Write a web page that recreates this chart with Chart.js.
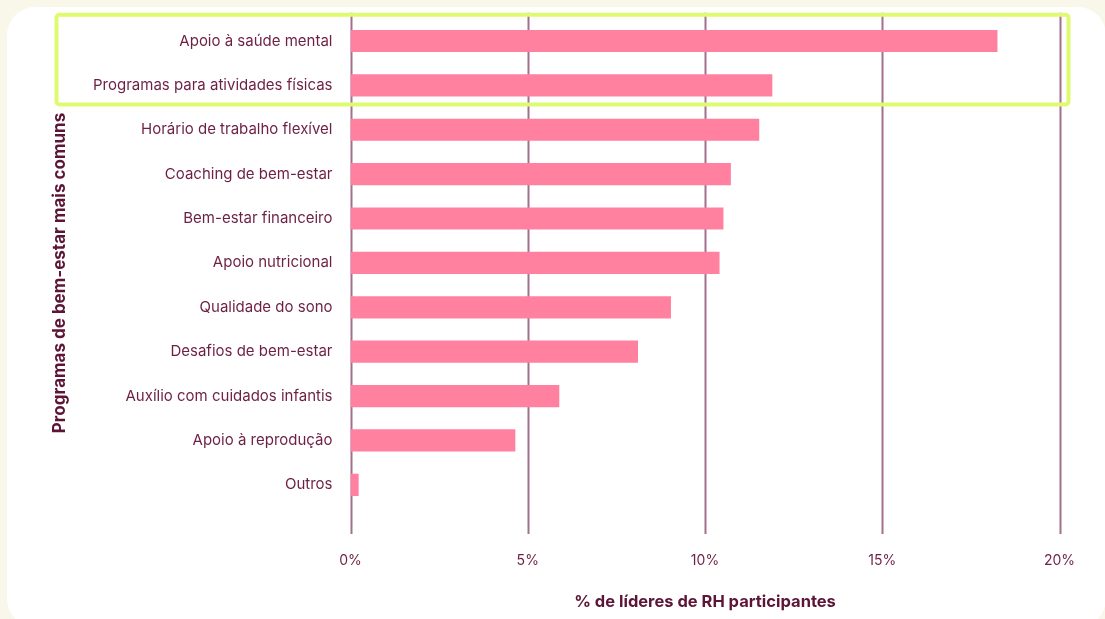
<!DOCTYPE html>
<html>
<head>
<meta charset="utf-8">
<script src="https://cdn.jsdelivr.net/npm/chart.js@4"></script>
<style>
  html, body { margin: 0; padding: 0; width: 1105px; height: 619px; overflow: hidden; background: #f9f7ea; }
  .card { position: absolute; left: 7px; top: 7px; width: 1099px; height: 620px; background: #ffffff; border-radius: 28px; }
  canvas { position: absolute; left: 0; top: 0; }
</style>
</head>
<body>
<div class="card"></div>
<canvas id="chart" width="1105" height="619"></canvas>
<script>
// Wellbeing programmes offered, share of participating HR leaders (%)
const categories = [
  'Apoio à saúde mental',
  'Programas para atividades físicas',
  'Horário de trabalho flexível',
  'Coaching de bem-estar',
  'Bem-estar financeiro',
  'Apoio nutricional',
  'Qualidade do sono',
  'Desafios de bem-estar',
  'Auxílio com cuidados infantis',
  'Apoio à reprodução',
  'Outros'
];
const shares = [18.25, 11.9, 11.53, 10.73, 10.52, 10.41, 9.04, 8.11, 5.89, 4.65, 0.23];
const tickValues = [0, 5, 10, 15, 20];
const highlightedRows = [0, 1];

const xTitle = '% de líderes de RH participantes';
const yTitle = 'Programas de bem-estar mais comuns';

const TEXT = '#6d1f44';
const TITLE = '#5c1537';
const GRID = '#a2708e';
const BAR = '#ff819f';
const LIME = '#defb70';
const FONT = 'Inter, "Noto Sans", sans-serif';

// Vertical guide lines that run slightly past the plot area at both ends
const guideLines = {
  id: 'guideLines',
  beforeDatasetsDraw(chart) {
    const { ctx, chartArea, scales: { x } } = chart;
    ctx.save();
    ctx.strokeStyle = GRID;
    ctx.lineWidth = 2;
    x.ticks.forEach(t => {
      const px = Math.round(x.getPixelForValue(t.value)) + 0.5;
      ctx.beginPath();
      ctx.moveTo(px, chartArea.top - 6);
      ctx.lineTo(px, chartArea.bottom + 27);
      ctx.stroke();
    });
    ctx.restore();
  }
};

// Outline around the leading rows plus the rotated axis caption
const decorations = {
  id: 'decorations',
  afterDraw(chart) {
    const { ctx, scales: { y } } = chart;
    const step = y.getPixelForValue(1) - y.getPixelForValue(0);
    const first = Math.min(...highlightedRows);
    const last = Math.max(...highlightedRows);
    const top = y.getPixelForValue(first) - step * 0.59;
    const bottom = y.getPixelForValue(last) + step * 0.43;
    ctx.save();
    ctx.strokeStyle = LIME;
    ctx.lineWidth = 4;
    ctx.beginPath();
    ctx.roundRect(56.5, top, 1012, bottom - top, 3);
    ctx.stroke();

    ctx.translate(60, 273);
    ctx.rotate(-Math.PI / 2);
    ctx.fillStyle = TITLE;
    ctx.font = 'bold 17px ' + FONT;
    ctx.textAlign = 'center';
    ctx.textBaseline = 'middle';
    ctx.fillText(yTitle, 0, 0);
    ctx.restore();
  }
};

new Chart(document.getElementById('chart'), {
  type: 'bar',
  data: {
    labels: categories,
    datasets: [{
      data: shares,
      backgroundColor: BAR,
      borderWidth: 0,
      barPercentage: 1,
      categoryPercentage: 0.5
    }]
  },
  options: {
    indexAxis: 'y',
    responsive: false,
    animation: false,
    devicePixelRatio: 1,
    layout: { padding: { top: 18.8, right: 45.5, bottom: 0, left: 0 } },
    plugins: { legend: { display: false }, tooltip: { enabled: false } },
    scales: {
      x: {
        min: 0,
        max: 20,
        afterBuildTicks(scale) { scale.ticks = tickValues.map(v => ({ value: v })); },
        afterFit(scale) {
          scale.height = 112;
          scale.paddingLeft = 0;
          scale.paddingRight = 0;
        },
        grid: { display: false, drawTicks: false },
        border: { display: false },
        ticks: {
          padding: 45,
          color: TEXT,
          font: { family: FONT, size: 14 },
          callback: v => v + '%'
        },
        title: {
          display: true,
          text: xTitle,
          color: TITLE,
          font: { family: FONT, size: 16.5, weight: 'bold' },
          padding: { top: 0, bottom: 7 }
        }
      },
      y: {
        afterFit(scale) {
          scale.width = 350.5;
          scale.paddingTop = 0;
          scale.paddingBottom = 0;
        },
        grid: { display: false, drawTicks: false },
        border: { display: false },
        ticks: {
          padding: 18,
          color: TEXT,
          font: { family: FONT, size: 15 }
        }
      }
    }
  },
  plugins: [guideLines, decorations]
});
</script>
</body>
</html>
